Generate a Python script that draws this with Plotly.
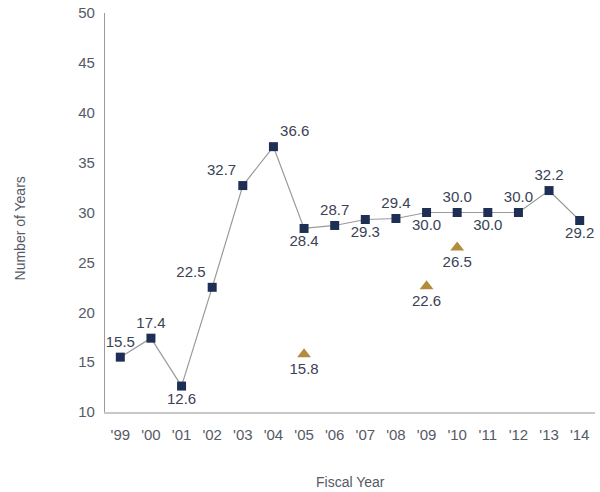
import plotly.graph_objects as go

# Fiscal years and the main series (number of years)
years = ["'99", "'00", "'01", "'02", "'03", "'04", "'05", "'06", "'07", "'08",
         "'09", "'10", "'11", "'12", "'13", "'14"]
main_values = [15.5, 17.4, 12.6, 22.5, 32.7, 36.6, 28.4, 28.7, 29.3, 29.4,
               30.0, 30.0, 30.0, 30.0, 32.2, 29.2]
main_label_pos = ["top center", "top center", "bottom center", "top left", "top left",
                  "top right", "bottom center", "top center", "bottom center", "top center",
                  "bottom center", "top center", "bottom center", "top center",
                  "top center", "bottom center"]

# Secondary points (triangles)
tri_years = ["'05", "'09", "'10"]
tri_values = [15.8, 22.6, 26.5]

y_ticks = [10, 15, 20, 25, 30, 35, 40, 45, 50]

navy = "#1e2f55"
gold = "#b38b3c"
text_col = "#3a4256"
axis_text = "#555a66"
font_family = "Liberation Sans, Arial, sans-serif"

fig = go.Figure()
fig.add_trace(go.Scatter(
    x=years, y=main_values, mode="lines+markers+text",
    line=dict(color="#9a9a9a", width=1.2),
    marker=dict(symbol="square", size=9, color=navy),
    text=[f"{v:.1f}" for v in main_values],
    textposition=main_label_pos,
    textfont=dict(size=15, color=text_col, family=font_family),
    cliponaxis=False, showlegend=False,
))
fig.add_trace(go.Scatter(
    x=tri_years, y=tri_values, mode="markers+text",
    marker=dict(symbol="triangle-up", size=12, color=gold),
    text=[f"{v:.1f}" for v in tri_values],
    textposition="bottom center",
    textfont=dict(size=15, color=text_col, family=font_family),
    cliponaxis=False, showlegend=False,
))

fig.update_layout(
    width=600, height=492,
    margin=dict(l=105, r=5, t=13, b=80),
    paper_bgcolor="white", plot_bgcolor="white",
    font=dict(family=font_family, size=15, color=axis_text),
    xaxis=dict(
        type="category", categoryorder="array", categoryarray=years,
        range=[-0.5, 15.5], showgrid=False, zeroline=False,
        showline=True, linecolor="#c8c8c8", linewidth=1.5,
        ticks="", ticklabelstandoff=8, tickfont=dict(size=15, color=axis_text),
    ),
    yaxis=dict(
        range=[10, 50], tickvals=y_ticks, showgrid=False, zeroline=False,
        showline=True, linecolor="#9a9a9a", linewidth=1.2,
        ticks="", ticklabelstandoff=6, tickfont=dict(size=15, color=axis_text),
    ),
    annotations=[
        dict(text="Fiscal Year", x=0.5, y=-0.175, xref="paper", yref="paper",
             xanchor="center", yanchor="middle", showarrow=False,
             font=dict(size=14, color=axis_text)),
        dict(text="Number of Years", x=-(105 - 20) / 490, y=0.46,
             xref="paper", yref="paper",
             xanchor="center", yanchor="middle", showarrow=False, textangle=-90,
             font=dict(size=14, color=axis_text)),
    ],
)

fig.write_html("out.html")
